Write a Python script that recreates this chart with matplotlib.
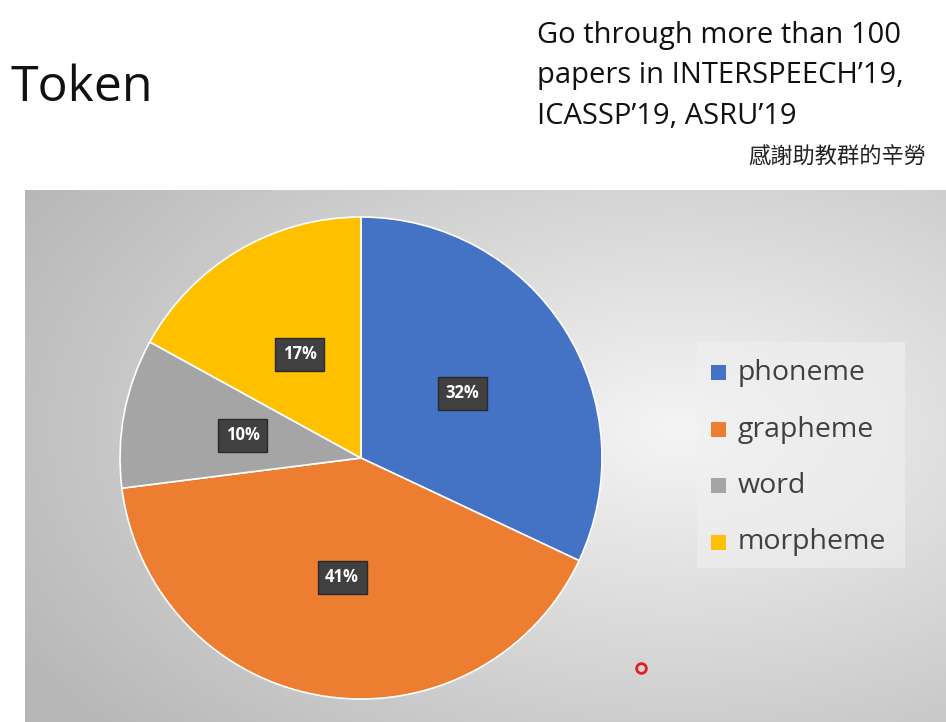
import numpy as np
import matplotlib
matplotlib.use("Agg")
import matplotlib.pyplot as plt
from matplotlib.patches import Rectangle

plt.rcParams['font.family'] = ['Open Sans', 'Noto Sans CJK TC', 'DejaVu Sans']

categories = ["phoneme", "grapheme", "word", "morpheme"]
shares = [32, 41, 10, 17]
colors = ["#4472c4", "#ed7d31", "#a5a5a5", "#ffc000"]

W, H = 946, 722
fig = plt.figure(figsize=(W/100, H/100), dpi=100)
ax = fig.add_axes([0, 0, 1, 1])
ax.set_xlim(0, W); ax.set_ylim(0, H); ax.axis('off')

xs = np.linspace(25, W, 300); ys = np.linspace(190, H, 200)
X, Y = np.meshgrid(xs, ys)
d = np.sqrt(((X-680)/700)**2 + ((Y-430)/420)**2)
g = np.clip(0.96 - 0.22*d, 0.72, 0.96)
img = np.dstack([g, g, g])
ax.imshow(img, extent=[25, W, 0, H-190], origin='upper', zorder=0, aspect='auto')

wedges, _, autotexts = ax.pie(shares, colors=colors, startangle=90, counterclock=False,
                              center=(361, H-458), radius=241, autopct='%d%%',
                              pctdistance=0.5, frame=True,
                              wedgeprops=dict(linewidth=1.2, edgecolor='white'),
                              textprops=dict(color='white', fontsize=12, fontweight='bold'))
for t in autotexts:
    t.set_bbox(dict(boxstyle='square,pad=0.45', facecolor='#404040', edgecolor='#2a2a2a'))
ax.set_xlim(0, W); ax.set_ylim(0, H); ax.set_aspect('auto')

ax.add_patch(Rectangle((697, H-568), 208, 226, facecolor='#f0f0f0', edgecolor='none', alpha=0.6, zorder=2))
for i, (c, col) in enumerate(zip(categories, colors)):
    y = H - (373 + i*56.5)
    ax.add_patch(Rectangle((711, y-7), 15, 15, facecolor=col, zorder=3))
    ax.text(738, y, c, fontsize=20.5, color='#404040', va='center', zorder=3)

ax.text(10, H-88, "Token", fontsize=36, va='center', color='#111111')
for i, line in enumerate(["Go through more than 100", "papers in INTERSPEECH\u201919,", "ICASSP\u201919, ASRU\u201919"]):
    ax.text(537, H-(36+40*i), line, fontsize=21, va='center', color='#111111')
ax.text(926, H-158, "感謝助教群的辛勞", fontsize=16, va='center', ha='right', color='#222222')

ax.plot([641], [H-668], 'o', markersize=7, markerfacecolor='none', markeredgecolor='#e02020', markeredgewidth=2)

fig.savefig("out.png", dpi=100)
